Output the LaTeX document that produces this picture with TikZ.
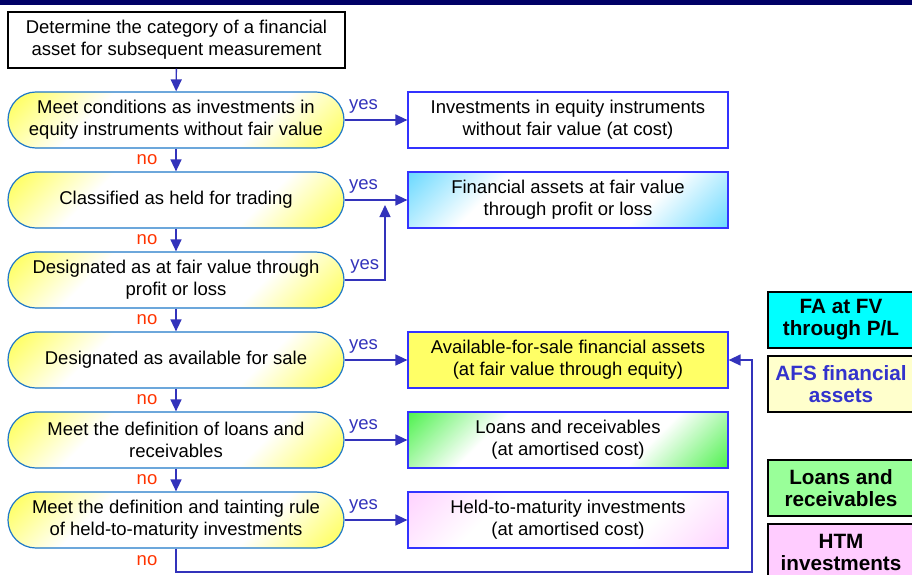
\documentclass[tikz,border=0pt]{standalone}
\usepackage{fontspec}
\setmainfont{Liberation Sans}
\usetikzlibrary{arrows.meta}

\definecolor{barnavy}{RGB}{0,0,102}
\definecolor{flowblue}{RGB}{51,51,187}
\definecolor{edgeblue}{RGB}{30,120,200}
\definecolor{boxblue}{RGB}{51,51,255}
\definecolor{noorange}{RGB}{255,51,0}
\definecolor{decyellow}{RGB}{255,255,0}
\definecolor{fvcyan}{RGB}{40,200,255}
\definecolor{afsyellow}{RGB}{255,255,102}
\definecolor{lrgreen}{RGB}{0,235,0}
\definecolor{htmpink}{RGB}{255,190,255}
\definecolor{legcyan}{RGB}{0,255,255}
\definecolor{legyellow}{RGB}{255,255,204}
\definecolor{leggreen}{RGB}{153,255,153}
\definecolor{legpink}{RGB}{255,204,255}
\definecolor{afsblue}{RGB}{51,51,204}
\colorlet{fadecol}{decyellow}

% colour in two opposite corners, white through the middle
\pgfdeclareverticalshading[fadecol]{cornerfade}{100bp}{color(0bp)=(fadecol); color(6bp)=(fadecol);
  color(34bp)=(white); color(66bp)=(white); color(94bp)=(fadecol); color(100bp)=(fadecol)}

\begin{document}
\begin{tikzpicture}
  [x=1pt,y=-1pt,
   every node/.style={font=\fontsize{18.5}{22}\selectfont,align=center,inner sep=0pt},
   faded/.style={/utils/exec={\colorlet{fadecol}{#1}},shade,shading=cornerfade,shading angle=45},
   test/.style={draw=edgeblue,line width=1.2pt,rounded corners=27.9pt,
     minimum width=336pt,minimum height=56pt,faded=decyellow},
   result/.style={draw=boxblue,line width=1.2pt,minimum width=320pt,minimum height=56pt},
   legend/.style={draw=black,line width=1.2pt,minimum width=146pt,minimum height=56pt,
     font=\fontsize{20.7}{22}\selectfont\bfseries},
   flow/.style={flowblue,line width=1.4pt,-{Triangle[length=12pt,width=11pt]}},
   yes/.style={above=6pt,pos=.3},
   no/.style={text=noorange,left=18pt}]
  \useasboundingbox (0,0) rectangle (912,574);
  \fill[barnavy] (0,0) rectangle (912,5);

  % decision chain
  \node[draw,line width=1.2pt,minimum width=337pt,minimum height=56pt] (ds) at (176.5,40)
    {Determine the category of a financial\\asset for subsequent measurement};
  \node[test] (da) at (176,120) {Meet conditions as investments in\\equity instruments without fair value};
  \node[test] (db) at (176,200) {Classified as held for trading};
  \node[test] (dc) at (176,280) {Designated as at fair value through\\profit or loss};
  \node[test] (dd) at (176,360) {Designated as available for sale};
  \node[test] (de) at (176,440) {Meet the definition of loans and\\receivables};
  \node[test] (df) at (176,520) {Meet the definition and tainting rule\\of held-to-maturity investments};

  % categories
  \node[result] (ra) at (568,120) {Investments in equity instruments\\without fair value (at cost)};
  \node[result,faded=fvcyan] (rb) at (568,200) {Financial assets at fair value\\through profit or loss};
  \node[result,fill=afsyellow] (rc) at (568,360) {Available-for-sale financial assets\\(at fair value through equity)};
  \node[result,faded=lrgreen] (rd) at (568,440) {Loans and receivables\\(at amortised cost)};
  \node[result,faded=htmpink] (re) at (568,520) {Held-to-maturity investments\\(at amortised cost)};

  % key
  \node[legend,fill=legcyan] (la) at (841,320) {FA at FV\\through P/L};
  \node[legend,fill=legyellow,text=afsblue] (lb) at (841,384) {AFS financial\\assets};
  \node[legend,fill=leggreen] (lc) at (841,488) {Loans and\\receivables};
  \node[legend,fill=legpink] (ld) at (841,552) {HTM\\investments};

  \draw[flow] (ds) -- (da);
  \foreach \from/\to in {da/db,db/dc,dc/dd,dd/de,de/df}
    \draw[flow] (\from) -- node[no] {no} (\to);
  \foreach \from/\to in {da/ra,db/rb,dd/rc,de/rd,df/re}
    \draw[flow] (\from) -- node[yes] {yes} (\to);

  \coordinate (up) at (385,205);
  \draw[flow] (dc) -- node[yes,pos=.5] {yes} (dc -| up) -- (up);
  \coordinate (back) at (752,572);
  \draw[flow] (df) -- node[no] {no} (df |- back) -- (back) |- (rc);
\end{tikzpicture}
\end{document}
